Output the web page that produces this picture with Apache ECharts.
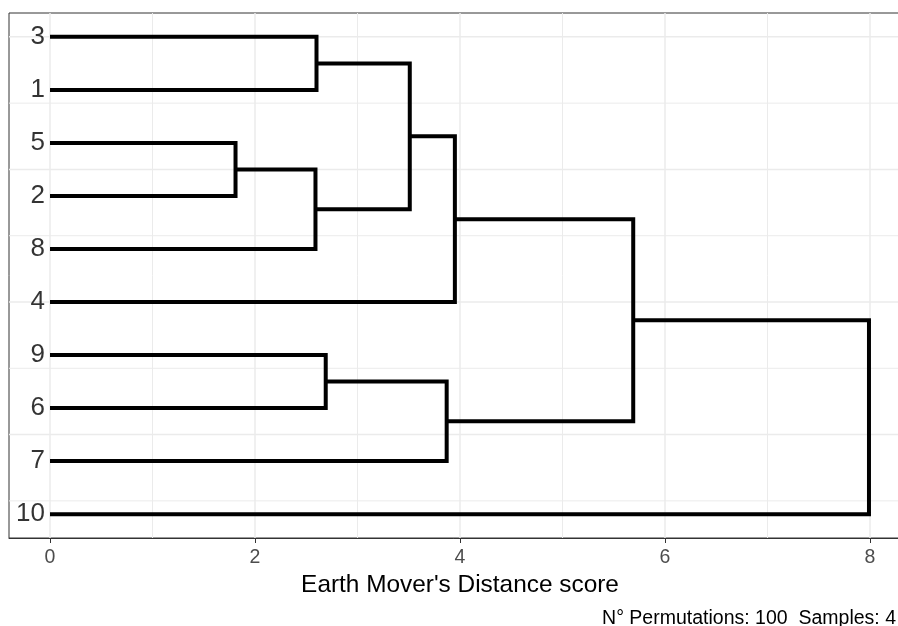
<!DOCTYPE html>
<html>
<head>
<meta charset="utf-8">
<script src="https://cdn.jsdelivr.net/npm/echarts@6/dist/echarts.min.js"></script>
<style>html,body{margin:0;padding:0;background:#fff}#chart{width:898px;height:626px}</style>
</head>
<body>
<div id="chart"></div>
<script>
// Leaves, listed top to bottom
const leafLabels = ['3', '1', '5', '2', '8', '4', '9', '6', '7', '10'];
// Merges: children are leaf labels or 'm<index>' for an earlier merge
const mergeA = ['3', '5', 'm1', 'm0', 'm3', '9', 'm5', 'm4', 'm7'];
const mergeB = ['1', '2', '8', 'm2', '4', '6', '7', 'm6', '10'];
const mergeHeights = [2.60, 1.81, 2.59, 3.51, 3.95, 2.69, 3.87, 5.69, 7.99];
const xTickValues = [0, 2, 4, 6, 8];
const xGridValues = [0, 1, 2, 3, 4, 5, 6, 7, 8];
const yGridMajor = [2.5, 5, 7.5, 10];
const yGridMinor = [1.25, 3.75, 6.25, 8.75];
const xTitle = "Earth Mover's Distance score";
const captionText = 'N° Permutations: 100  Samples: 4';

const FONT = "'Liberation Sans', Arial, sans-serif";
const X_MIN = -0.4, X_MAX = 8.4, Y_MIN = 0.55, Y_MAX = 10.45;

function nodePos(id) {
  if (id.charAt(0) === 'm') {
    const k = parseInt(id.slice(1), 10);
    const a = nodePos(mergeA[k]);
    const b = nodePos(mergeB[k]);
    return { h: mergeHeights[k], y: (a.y + b.y) / 2 };
  }
  const idx = leafLabels.indexOf(id);
  return { h: 0, y: leafLabels.length - idx };
}

const series = [];
function gridSeries(data, width) {
  return {
    type: 'line', data: data, symbol: 'none', silent: true, z: 1,
    lineStyle: { color: '#ebebeb', width: width }
  };
}
xGridValues.forEach(v => series.push(gridSeries([[v, Y_MIN], [v, Y_MAX]], v % 2 === 0 ? 1.5 : 1)));
yGridMajor.forEach(v => series.push(gridSeries([[X_MIN, v], [X_MAX, v]], 1.5)));
yGridMinor.forEach(v => series.push(gridSeries([[X_MIN, v], [X_MAX, v]], 1)));

mergeHeights.forEach((H, k) => {
  const a = nodePos(mergeA[k]);
  const b = nodePos(mergeB[k]);
  series.push({
    type: 'line',
    data: [[a.h, a.y], [H, a.y], [H, b.y], [b.h, b.y]],
    symbol: 'none',
    silent: true,
    z: 3,
    lineStyle: { color: '#000', width: 4, cap: 'butt', join: 'miter' }
  });
});

series.push({
  type: 'scatter',
  data: leafLabels.map((l, i) => [0, leafLabels.length - i, l]),
  symbolSize: 0,
  silent: true,
  z: 4,
  label: {
    show: true,
    position: 'left',
    distance: 5,
    formatter: p => p.data[2],
    fontSize: 26,
    color: '#000',
    fontFamily: FONT
  }
});

const chart = echarts.init(document.getElementById('chart'), null, { renderer: 'canvas' });
chart.setOption({
  animation: false,
  backgroundColor: '#fff',
  grid: {
    left: 9, top: 13, width: 902, height: 525,
    show: true, borderColor: '#333', borderWidth: 1,
    containLabel: false, outerBoundsMode: 'none'
  },
  xAxis: {
    type: 'value', min: X_MIN, max: X_MAX,
    axisLine: { show: true, lineStyle: { color: '#333', width: 1 } },
    axisTick: { show: true, customValues: xTickValues, length: 5, lineStyle: { color: '#333', width: 1 } },
    axisLabel: { show: true, customValues: xTickValues, fontSize: 19.5, color: '#4d4d4d', margin: 10, fontFamily: FONT },
    splitLine: { show: false },
    name: xTitle, nameLocation: 'middle', nameGap: 33,
    nameTextStyle: { fontSize: 24.4, color: '#000', fontFamily: FONT }
  },
  yAxis: {
    type: 'value', min: Y_MIN, max: Y_MAX,
    axisLine: { show: false }, axisTick: { show: false }, axisLabel: { show: false },
    splitLine: { show: false }
  },
  graphic: [{
    type: 'text', right: 2, top: 609,
    style: { text: captionText, fontSize: 19.5, fill: '#000', fontFamily: FONT }
  }],
  series: series
});
</script>
</body>
</html>
